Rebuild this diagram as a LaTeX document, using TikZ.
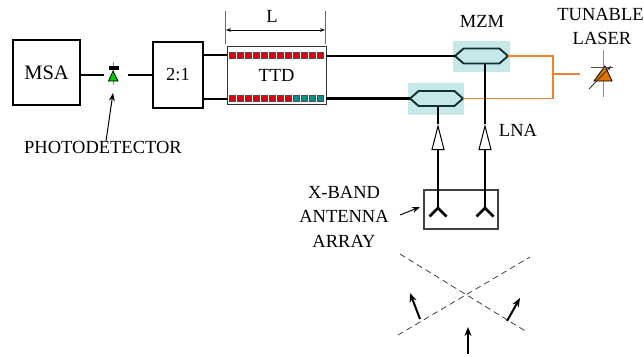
\documentclass[tikz,border=0pt]{standalone}
\usepackage{fontspec}
\setmainfont{Liberation Serif}
\usetikzlibrary{positioning,arrows.meta,shapes.symbols,shapes.geometric}
\definecolor{laserorange}{HTML}{F0802E}
\definecolor{cellred}{HTML}{D8000F}
\definecolor{cellteal}{HTML}{0F8C8C}
\definecolor{mzmback}{HTML}{C6E8E8}
\definecolor{mzmline}{HTML}{12302F}
\tikzset{
  txt/.style={font=\fontsize{18.5}{20}\selectfont, inner sep=0pt, align=center},
  heavybox/.style={draw, line width=2.2pt, outer sep=0pt, inner sep=0pt},
  wire/.style={line width=2.2pt},
  opt/.style={draw=laserorange, line width=1.2pt},
  cell/.style={minimum width=5.5pt, minimum height=6.5pt, inner sep=0pt, draw=black!70, line width=0.3pt},
  mzmbg/.style={fill=mzmback, minimum height=31pt, inner sep=0pt, outer sep=0pt},
  mzm/.style={signal, signal to=west and east, signal pointer angle=82, draw=mzmline, fill=mzmback,
    line width=1.9pt, minimum width=53pt, minimum height=15pt, inner sep=0pt, outer sep=0pt},
  lnatip/.style={-{Triangle[open, length=26pt, width=13pt, line width=1pt, fill=white]}},
  small/.style={-{Stealth[length=8pt, width=6pt]}, line width=1pt},
  big/.style={-{Stealth[length=9pt, width=7pt]}, line width=2pt},
  horn/.style={line width=2.6pt},
  dashline/.style={dashed, draw=black!75, line width=0.8pt, dash pattern=on 6pt off 4pt}
}
\begin{document}
\begin{tikzpicture}[x=1pt, y=-1pt]
  \useasboundingbox (0,0) rectangle (644,356);

  % receiver chain
  \node [heavybox, txt, font=\fontsize{20.5}{22}\selectfont, minimum width=67pt, minimum height=65pt] (msa) at (46.5,72.5) {MSA};
  \node [heavybox, txt, minimum width=50pt, minimum height=66pt, right=73pt of msa.east, yshift=-2.5pt] (split) {2:1};
  \node [draw=black!80, line width=1pt, txt, minimum width=99pt, minimum height=58pt, outer sep=0pt, right=24pt of split.east] (ttd) {TTD};

  % photodetector
  \coordinate (pd) at (113,75);
  \coordinate [right=15pt of pd] (pdout);
  \draw [black!45, line width=0.7pt] (113,62) -- (113,85);
  \draw [fill=green!80!black, draw=black, line width=0.7pt] (113,71) -- (118,81) -- (108.5,81) -- cycle;
  \fill (108.5,66) rectangle (118.5,70);
  \node [txt, below=66pt of pd, xshift=-10pt] (pdlabel) {PHOTODETECTOR};
  \coordinate (pdtip) at (113,93);
  \draw [small] (pdlabel.north -| 106,0) -- (pdtip);
  \draw [wire] (msa.east |- pd) -- (104,75);
  \draw [wire] (pdout) -- (split.west |- pdout);

  % delay line cells
  \foreach \i in {0,...,11} {
    \node [cell, fill=cellred] (top\i) at (232+8*\i,55) {};
  }
  \foreach \i in {0,...,7} {
    \node [cell, fill=cellred] (bot\i) at (232+8*\i,98) {};
  }
  \foreach \i in {8,...,11} {
    \node [cell, fill=cellteal] (bot\i) at (232+8*\i,98) {};
  }
  \coordinate (splita) at (203,55);
  \coordinate (splitb) at (203,99);
  \draw [wire] (splita) -- (ttd.west |- splita);
  \draw [wire] (splitb) -- (ttd.west |- splitb);

  % length mark
  \coordinate (la) at (225.5,11);
  \coordinate (lb) at (325.5,11);
  \draw [black!60, line width=0.7pt] (la) -- ++(0,33);
  \draw [black!60, line width=0.7pt] (lb) -- ++(0,33);
  \draw [{Stealth[length=5pt]}-{Stealth[length=5pt]}, line width=0.8pt] (226,30) -- (325,30);
  \node [txt] (len) at (272,16) {L};

  % modulators
  \node [mzmbg, minimum width=57pt] (bgtop) at (481,56.5) {};
  \node [mzmbg, minimum width=56pt, minimum height=32pt] (bgbot) at (436,99) {};
  \node [mzm] (mzmtop) at (481.5,56) {};
  \node [mzm] (mzmbot) at (436.5,98.5) {};
  \node [txt] (mzmlabel) at (482,21) {MZM};
  \draw [wire] (ttd.east |- mzmtop) -- (mzmtop.west);
  \draw [wire] (ttd.east |- mzmbot) -- (mzmbot.west);

  % laser
  \coordinate (junction) at (553,74);
  \coordinate (laser) at (580,74);
  \draw [opt] (mzmtop.east) -| (junction);
  \draw [opt] (mzmbot.east) -| (junction);
  \draw [opt] (junction) -- (laser);
  \draw [black!45, line width=1pt] (603,50) -- (603,97);
  \draw [fill=orange!90!black, draw=black, line width=0.8pt] (605,66) -- (612,81) -- (594,81) -- cycle;
  \draw [black!70, line width=1pt] (591,67) -- (613,67);
  \draw [-{Stealth[length=5pt]}, black!80, line width=0.9pt] (589,89) -- (611,66);
  \node [txt] (tunable) at (600.5,14) {TUNABLE};
  \node [txt] (laserlabel) at (602,38) {LASER};

  % antennas
  \node [draw=black!75, line width=1.1pt, minimum width=74pt, minimum height=39pt, inner sep=0pt, outer sep=0pt] (array) at (461,209.5) {};
  \coordinate (ant1) at (438,208);
  \coordinate (ant2) at (485,208);
  \draw [horn] (ant1) -- ++(-8.5,8.5);
  \draw [horn] (ant1) -- ++(8.5,8.5);
  \draw [horn] (ant2) -- ++(-8.5,8.5);
  \draw [horn] (ant2) -- ++(8.5,8.5);
  \coordinate (lna1) at (438,124);
  \coordinate (lna2) at (485,124);
  \draw [wire, lnatip] (ant1) -- (lna1);
  \draw [wire, lnatip] (ant2) -- (lna2);
  \draw [wire] (mzmbot.south -| lna1) -- (lna1);
  \draw [wire] (mzmtop.south -| lna2) -- (lna2);
  \node [txt] (lnalabel) at (518,130) {LNA};
  \node [txt] (bandlabel) at (344,216.5) {X-BAND\\[4.5pt] ANTENNA\\[4.5pt] ARRAY};
  \coordinate (arraytip) at (420,207);
  \draw [small] (400,215) -- (arraytip);

  % incoming wavefronts
  \coordinate (wa) at (400,254);
  \coordinate (wb) at (527,332);
  \coordinate (wc) at (398,335);
  \coordinate (wd) at (530,257);
  \draw [dashline] (wa) -- (wb);
  \draw [dashline] (wc) -- (wd);
  \draw [big] (420,319) -- (410,293);
  \draw [big] (507,321) -- (520,298);
  \draw [big] (468,354) -- (468,327);
\end{tikzpicture}
\end{document}
